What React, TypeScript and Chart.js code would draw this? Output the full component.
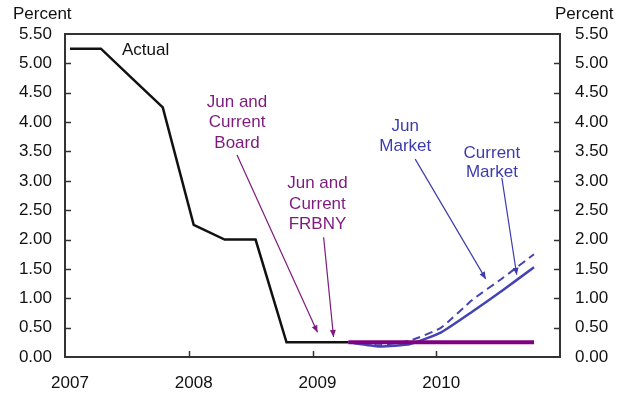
import React, { useEffect, useRef } from "react";
import { Chart, registerables } from "chart.js";

Chart.register(...registerables);

// ---- data ----
const actualX = [2007.04, 2007.29, 2007.54, 2007.79, 2008.04, 2008.29, 2008.54, 2008.79, 2009.04, 2009.29];
const actualY = [5.25, 5.25, 4.75, 4.25, 2.25, 2.0, 2.0, 0.25, 0.25, 0.25];
const forecastX = [2009.29, 2009.54, 2009.79, 2010.04, 2010.29, 2010.54, 2010.79];
const boardFrbny = [0.25, 0.25, 0.25, 0.25, 0.25, 0.25, 0.25];
const junMarket = [0.25, 0.2, 0.28, 0.5, 0.97, 1.35, 1.75];
const currentMarket = [0.25, 0.18, 0.22, 0.42, 0.77, 1.14, 1.53];
const yTickValues = [0, 0.5, 1, 1.5, 2, 2.5, 3, 3.5, 4, 4.5, 5, 5.5];
const yearTicks = [2007, 2008, 2009, 2010];

const FONT = "'Liberation Sans', Arial, sans-serif";
const PURPLE = "#7d1a7d";
const BLUE = "#3c3cae";
const PURPLE_LINE = "#800080";
const BLUE_LINE = "#4343b4";

type Ann = { lines: string[]; x: number; y: number[]; color: string; align: CanvasTextAlign; arrow?: [number, number, number, number] };
const annotations: Ann[] = [
  { lines: ["Actual"], x: 2007.46, y: [5.23], color: "#111", align: "left" },
  { lines: ["Jun and", "Current", "Board"], x: 2008.39, y: [4.34, 4.0, 3.64], color: PURPLE, align: "center", arrow: [2008.39, 3.44, 2009.04, 0.42] },
  { lines: ["Jun and", "Current", "FRBNY"], x: 2009.04, y: [2.95, 2.6, 2.26], color: PURPLE, align: "center", arrow: [2009.09, 2.04, 2009.17, 0.34] },
  { lines: ["Jun", "Market"], x: 2009.75, y: [3.93, 3.58], color: BLUE, align: "center", arrow: [2009.83, 3.37, 2010.4, 1.33] },
  { lines: ["Current", "Market"], x: 2010.45, y: [3.47, 3.15], color: BLUE, align: "center", arrow: [2010.53, 3.05, 2010.65, 1.4] },
];

const pts = (xs: number[], ys: number[]) => xs.map((x, i) => ({ x, y: ys[i] }));

const decorPlugin = {
  id: "decor",
  afterDatasetsDraw(chart: any) {
    const ctx = chart.ctx as CanvasRenderingContext2D;
    const a = chart.chartArea;
    const xs = chart.scales.x;
    const ys = chart.scales.y;
    ctx.save();
    // box
    ctx.strokeStyle = "#333";
    ctx.lineWidth = 2;
    ctx.strokeRect(a.left, a.top, a.right - a.left, a.bottom - a.top);
    // inward ticks
    ctx.lineWidth = 1.5;
    yTickValues.forEach((v) => {
      if (v === 0 || v === 5.5) return;
      const py = Math.round(ys.getPixelForValue(v)) + 0.5;
      ctx.beginPath();
      ctx.moveTo(a.left, py);
      ctx.lineTo(a.left + 6, py);
      ctx.moveTo(a.right, py);
      ctx.lineTo(a.right - 6, py);
      ctx.stroke();
    });
    yearTicks.forEach((v) => {
      if (v === 2007) return;
      const px = Math.round(xs.getPixelForValue(v)) + 0.5;
      ctx.beginPath();
      ctx.moveTo(px, a.bottom);
      ctx.lineTo(px, a.bottom - 6);
      ctx.stroke();
    });
    // annotations
    ctx.font = `17px ${FONT}`;
    ctx.textBaseline = "middle";
    annotations.forEach((an) => {
      ctx.fillStyle = an.color;
      ctx.textAlign = an.align;
      an.lines.forEach((t, i) => ctx.fillText(t, xs.getPixelForValue(an.x), ys.getPixelForValue(an.y[i])));
      if (an.arrow) {
        const [x1, y1, x2, y2] = an.arrow;
        const p1x = xs.getPixelForValue(x1), p1y = ys.getPixelForValue(y1);
        const p2x = xs.getPixelForValue(x2), p2y = ys.getPixelForValue(y2);
        ctx.strokeStyle = an.color;
        ctx.lineWidth = 1.2;
        ctx.beginPath();
        ctx.moveTo(p1x, p1y);
        ctx.lineTo(p2x, p2y);
        ctx.stroke();
        const ang = Math.atan2(p2y - p1y, p2x - p1x);
        const L = 7, W = 3;
        ctx.fillStyle = an.color;
        ctx.beginPath();
        ctx.moveTo(p2x, p2y);
        ctx.lineTo(p2x - L * Math.cos(ang) + W * Math.sin(ang), p2y - L * Math.sin(ang) - W * Math.cos(ang));
        ctx.lineTo(p2x - L * Math.cos(ang) - W * Math.sin(ang), p2y - L * Math.sin(ang) + W * Math.cos(ang));
        ctx.closePath();
        ctx.fill();
      }
    });
    // "Percent" titles
    ctx.fillStyle = "#111";
    ctx.textAlign = "left";
    ctx.fillText("Percent", 13, 14);
    ctx.fillText("Percent", 555, 14);
    ctx.restore();
  },
};

export default function App() {
  const ref = useRef<HTMLCanvasElement>(null);
  useEffect(() => {
    document.body.style.margin = "0";
    const tickFont = { family: FONT, size: 17 };
    const chart = new Chart(ref.current!, {
      type: "line",
      data: {
        datasets: [
          { label: "Board/FRBNY", data: pts(forecastX, boardFrbny), borderColor: PURPLE_LINE, borderWidth: 4, pointRadius: 0, order: 0 },
          { label: "Current Market", data: pts(forecastX, currentMarket), borderColor: BLUE_LINE, borderWidth: 2.5, pointRadius: 0, tension: 0.15, order: 1 },
          { label: "Jun Market", data: pts(forecastX, junMarket), borderColor: BLUE_LINE, borderWidth: 2, borderDash: [8, 5], pointRadius: 0, tension: 0.15, order: 2 },
          { label: "Actual", data: pts(actualX, actualY), borderColor: "#111", borderWidth: 2.5, pointRadius: 0, order: 3 },
        ],
      },
      options: {
        animation: false,
        responsive: false,
        layout: { padding: { top: 34, left: 0, right: 0, bottom: 0 } },
        plugins: { legend: { display: false }, tooltip: { enabled: false } },
        scales: {
          x: {
            type: "linear",
            min: 2007,
            max: 2011,
            afterBuildTicks: (s: any) => { s.ticks = [2007, 2008, 2009, 2010, 2011].map((v) => ({ value: v })); },
            afterFit: (s: any) => { s.height = 40; },
            grid: { display: false, drawTicks: false },
            border: { display: false },
            ticks: {
              font: tickFont,
              color: "#111",
              padding: 16,
              labelOffset: 5,
              maxRotation: 0,
              autoSkip: false,
              callback: (v: any) => (yearTicks.includes(Number(v)) ? String(v) : ""),
            },
          },
          y: {
            position: "left",
            min: 0,
            max: 5.5,
            afterBuildTicks: (s: any) => { s.ticks = yTickValues.map((v) => ({ value: v })); },
            afterFit: (s: any) => { s.width = 65; },
            grid: { display: false, drawTicks: false },
            border: { display: false },
            ticks: { font: tickFont, color: "#111", padding: 13, callback: (v: any) => Number(v).toFixed(2) },
          },
          y2: {
            position: "right",
            min: 0,
            max: 5.5,
            afterBuildTicks: (s: any) => { s.ticks = yTickValues.map((v) => ({ value: v })); },
            afterFit: (s: any) => { s.width = 66; },
            grid: { display: false, drawTicks: false },
            border: { display: false },
            ticks: { font: tickFont, color: "#111", padding: 15, callback: (v: any) => Number(v).toFixed(2) },
          },
        },
      },
      plugins: [decorPlugin],
    });
    return () => chart.destroy();
  }, []);
  return (
    <div style={{ width: 626, height: 397, background: "#fff" }}>
      <canvas ref={ref} width={626} height={397} style={{ display: "block" }} />
    </div>
  );
}
